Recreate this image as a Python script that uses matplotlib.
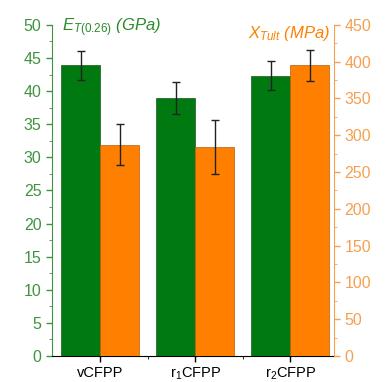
import numpy as np
import matplotlib.pyplot as plt
from matplotlib.ticker import MultipleLocator

plt.rcParams['font.family'] = ['Liberation Sans', 'DejaVu Sans']
plt.rcParams['mathtext.fontset'] = 'custom'
plt.rcParams['mathtext.rm'] = 'Liberation Sans'
plt.rcParams['mathtext.it'] = 'Liberation Sans:italic'

categories = ['vCFPP', 'r$_1$CFPP', 'r$_2$CFPP']
modulus = [43.9, 39.0, 42.3]
modulus_err = [2.2, 2.4, 2.2]
strength = [287, 284, 395]
strength_err = [28, 37, 21]

green = '#007a10'
orange = '#ff8000'
green_txt = '#3f9440'
orange_txt = '#f5a050'

fig = plt.figure(figsize=(3.85, 3.82), dpi=100)
ax = fig.add_axes([0.135, 0.068, 0.733, 0.867])
ax2 = ax.twinx()

x = np.arange(1, len(categories) + 1)
w = 0.41
ax.bar(x - w/2, modulus, w, color=green, edgecolor='#1a5a1a', linewidth=0.5,
       yerr=modulus_err, error_kw=dict(ecolor='#222222', elinewidth=1, capsize=3, capthick=1))
ax2.bar(x + w/2, strength, w, color=orange, edgecolor='#b06010', linewidth=0.5,
        yerr=strength_err, error_kw=dict(ecolor='#222222', elinewidth=1, capsize=3, capthick=1))

ax.set_xlim(0.495, 3.46)
ax.set_ylim(0, 50)
ax2.set_ylim(0, 450)

ax.set_xticks(x)
ax.set_xticklabels(categories, fontsize=10.5)
ax.set_xticks([1.5, 2.5], minor=True)
ax.yaxis.set_major_locator(MultipleLocator(5))
ax.yaxis.set_minor_locator(MultipleLocator(2.5))
ax2.yaxis.set_major_locator(MultipleLocator(50))
ax2.yaxis.set_minor_locator(MultipleLocator(25))

ax.tick_params(axis='y', colors=green_txt, labelsize=11.5, length=4, width=1, direction='out')
ax.tick_params(axis='y', which='minor', colors=green_txt, length=2.5)
ax.tick_params(axis='x', length=4, width=1, direction='out', pad=3)
ax.tick_params(axis='x', which='minor', length=2.5)
ax2.tick_params(axis='y', colors=orange_txt, labelsize=11.5, length=4, width=1, direction='out')
ax2.tick_params(axis='y', which='minor', colors=orange_txt, length=2.5)

for a in (ax, ax2):
    a.spines['top'].set_visible(False)
ax.spines['left'].set_color(green_txt)
ax2.spines['left'].set_visible(False)
ax2.spines['right'].set_color(orange_txt)
ax.spines['right'].set_visible(False)
ax2.spines['bottom'].set_visible(False)

ax.text(0.035, 0.99, r'$E_{\mathit{T(0.26)}}$ (GPa)', transform=ax.transAxes, color='#2a8a2a',
        fontsize=12, fontstyle='italic', va='center', ha='left')
ax.text(0.985, 0.975, r'$X_{\mathit{Tult}}$ (MPa)', transform=ax.transAxes, color=orange,
        fontsize=12, fontstyle='italic', va='center', ha='right')

fig.savefig('out.png', dpi=100)
